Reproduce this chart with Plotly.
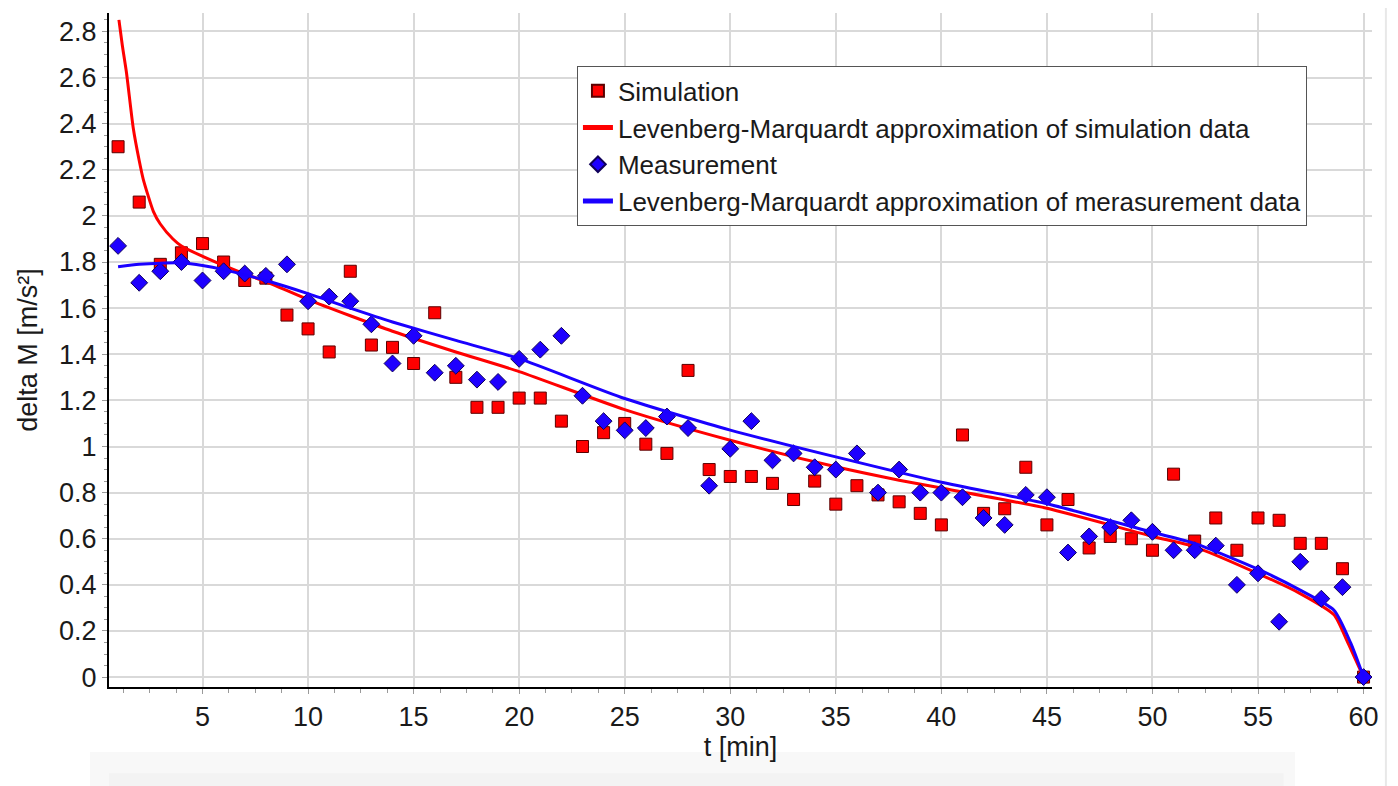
import plotly.graph_objects as go

# ---------------- data ----------------
t_points = list(range(1, 61))

simulation = [2.30, 2.06, 1.79, 1.84, 1.88, 1.80, 1.72, 1.73, 1.57, 1.51,
              1.41, 1.76, 1.44, 1.43, 1.36, 1.58, 1.30, 1.17, 1.17, 1.21,
              1.21, 1.11, 1.00, 1.06, 1.10, 1.01, 0.97, 1.33, 0.90, 0.87,
              0.87, 0.84, 0.77, 0.85, 0.75, 0.83, 0.79, 0.76, 0.71, 0.66,
              1.05, 0.71, 0.73, 0.91, 0.66, 0.77, 0.56, 0.61, 0.60, 0.55,
              0.88, 0.59, 0.69, 0.55, 0.69, 0.68, 0.58, 0.58, 0.47, 0.00]

measurement = [1.87, 1.71, 1.76, 1.80, 1.72, 1.76, 1.75, 1.74, 1.79, 1.63,
               1.65, 1.63, 1.53, 1.36, 1.48, 1.32, 1.35, 1.29, 1.28, 1.38,
               1.42, 1.48, 1.22, 1.11, 1.07, 1.08, 1.13, 1.08, 0.83, 0.99,
               1.11, 0.94, 0.97, 0.91, 0.90, 0.97, 0.80, 0.90, 0.80, 0.80,
               0.78, 0.69, 0.66, 0.79, 0.78, 0.54, 0.61, 0.65, 0.68, 0.63,
               0.55, 0.55, 0.57, 0.40, 0.45, 0.24, 0.50, 0.34, 0.39, 0.00]

fit_sim_t = [1.04, 1.2, 1.4, 1.72, 2.0, 2.19, 2.67, 3.0, 3.6, 4.0, 4.88, 6.0,
             7.0, 8.0, 10.0, 12.0, 14.0, 17.0, 20.0, 25.0, 30.0, 35.0, 38.0,
             40.0, 45.0, 50.0, 52.0, 55.0, 57.0, 58.6, 59.2, 59.6, 60.0]
fit_sim_v = [2.85, 2.74, 2.62, 2.38, 2.24, 2.16, 2.02, 1.965, 1.90, 1.87, 1.83,
             1.785, 1.748, 1.715, 1.637, 1.567, 1.50, 1.41, 1.325, 1.16, 1.027,
             0.912, 0.854, 0.82, 0.732, 0.61, 0.565, 0.449, 0.362, 0.27, 0.16,
             0.08, 0.0]

fit_meas_t = [1.0, 2.0, 3.0, 4.0, 5.0, 6.0, 8.0, 10.0, 12.0, 14.0, 17.0, 20.0,
              25.0, 30.0, 35.0, 40.0, 45.0, 50.0, 52.0, 55.0, 57.0, 58.6,
              59.4, 60.0]
fit_meas_v = [1.78, 1.79, 1.795, 1.796, 1.785, 1.767, 1.72, 1.663, 1.60, 1.54,
              1.46, 1.381, 1.208, 1.071, 0.955, 0.845, 0.752, 0.628, 0.58,
              0.468, 0.377, 0.29, 0.146, 0.0]

legend_names = ["Simulation",
                "Levenberg-Marquardt approximation of simulation data",
                "Measurement",
                "Levenberg-Marquardt approximation of merasurement data"]

x_range = [0.57, 60.4]
y_range = [-0.043, 2.88]

FONT = "Liberation Sans, Arial, sans-serif"
TXT = "#1a1a1a"

fig = go.Figure()
fig.add_trace(go.Scatter(
    x=t_points, y=simulation, mode="markers", name=legend_names[0],
    marker=dict(symbol="square", size=12, color="#ff0000",
                line=dict(color="#5a0000", width=1))))
fig.add_trace(go.Scatter(
    x=fit_sim_t, y=fit_sim_v, mode="lines", name=legend_names[1],
    line=dict(color="#ff0000", width=3, shape="spline", smoothing=0.6)))
fig.add_trace(go.Scatter(
    x=t_points, y=measurement, mode="markers", name=legend_names[2],
    marker=dict(symbol="diamond", size=13, color="#1e00ff",
                line=dict(color="#10005a", width=1))))
fig.add_trace(go.Scatter(
    x=fit_meas_t, y=fit_meas_v, mode="lines", name=legend_names[3],
    line=dict(color="#1a00ff", width=3, shape="spline", smoothing=0.6)))

# the page body adds an 8 px offset; the figure is sized to compensate
fig.update_layout(
    width=1390, height=778,
    margin=dict(l=101, r=26, t=5, b=99, autoexpand=False),
    paper_bgcolor="white", plot_bgcolor="white",
    font=dict(family=FONT, size=27, color=TXT),
    showlegend=True,
    legend=dict(x=0.3705, y=0.921, xanchor="left", yanchor="top",
                bgcolor="white", bordercolor="#555555", borderwidth=1,
                font=dict(family=FONT, size=26, color=TXT),
                tracegroupgap=0, itemsizing="constant"),
    xaxis=dict(
        range=x_range, tick0=0, dtick=5, automargin=False,
        showgrid=True, gridcolor="#d9d9d9", gridwidth=2,
        showline=True, linecolor="black", linewidth=2,
        zeroline=False,
        ticks="outside", ticklen=5, tickcolor="#9a9a9a", tickwidth=1,
        tickfont=dict(family=FONT, size=27, color=TXT),
        minor=dict(dtick=1.25, tick0=0, ticks="outside", ticklen=4,
                   tickcolor="#9a9a9a", showgrid=False),
        title=dict(text="t [min]", standoff=4,
                   font=dict(family=FONT, size=27, color=TXT)),
    ),
    yaxis=dict(
        range=y_range, tick0=0, dtick=0.2, automargin=False,
        showgrid=True, gridcolor="#d9d9d9", gridwidth=2,
        showline=True, linecolor="black", linewidth=2,
        zeroline=False,
        ticks="outside", ticklen=5, tickcolor="#9a9a9a", tickwidth=1,
        tickfont=dict(family=FONT, size=27, color=TXT),
        minor=dict(dtick=0.05, tick0=0, ticks="outside", ticklen=3,
                   tickcolor="#9a9a9a", showgrid=False),
        title=dict(text="delta M [m/s²]", standoff=14,
                   font=dict(family=FONT, size=27, color=TXT)),
    ),
    shapes=[
        dict(type="rect", xref="paper", yref="paper", layer="below",
             x0=-0.015, x1=0.939, y0=-0.147, y1=-0.0964,
             fillcolor="#f8f8f8", line=dict(width=0)),
        dict(type="rect", xref="paper", yref="paper", layer="below",
             x0=0.0, x1=0.93, y0=-0.147, y1=-0.128,
             fillcolor="#f3f3f3", line=dict(width=0)),
        dict(type="line", xref="paper", yref="paper",
             x0=1.011, x1=1.011, y0=-0.147, y1=1.02,
             line=dict(color="#e8e8e8", width=2)),
    ],
)

fig.write_html("out.html")
